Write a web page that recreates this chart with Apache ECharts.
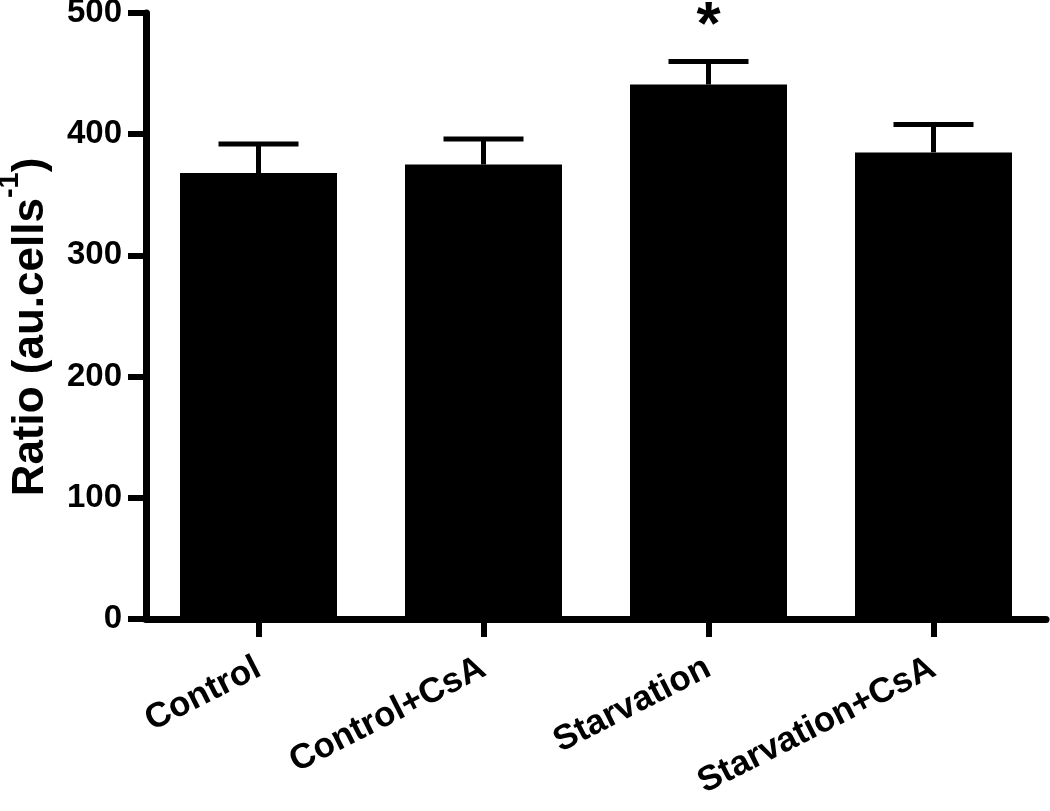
<!DOCTYPE html>
<html>
<head>
<meta charset="utf-8">
<script src="https://cdn.jsdelivr.net/npm/echarts@6/dist/echarts.min.js"></script>
<style>
html,body{margin:0;padding:0;background:#fff;}
#chart{width:1050px;height:811px;}
</style>
</head>
<body>
<div id="chart"></div>
<script>
const categories = ['Control', 'Control+CsA', 'Starvation', 'Starvation+CsA'];
const means = [368, 375, 441, 385];
const errUpper = [392, 396, 460, 408];
const sigMarks = ['', '', '*', ''];
const yMin = 0, yMax = 500, yStep = 100;

const FONT = '"Liberation Sans", Arial, Helvetica, sans-serif';
const chart = echarts.init(document.getElementById('chart'), null, {renderer: 'canvas'});

const errData = categories.map((c, i) => [i, means[i], errUpper[i]]);

chart.setOption({
  animation: false,
  backgroundColor: '#fff',
  grid: {left: 146, right: 4, top: 13, bottom: 192, containLabel: false, outerBoundsMode: 'none'},
  xAxis: {
    type: 'category',
    data: categories,
    axisLine: {show: true, lineStyle: {color: '#000', width: 7}},
    axisTick: {show: true, alignWithLabel: true, length: 18, lineStyle: {color: '#000', width: 6}},
    axisLabel: {
      rotate: 27, margin: 47, color: '#000',
      fontFamily: FONT, fontWeight: 'bold', fontSize: 35
    },
    splitLine: {show: false}
  },
  yAxis: {
    type: 'value',
    min: yMin, max: yMax, interval: yStep,
    name: '{m|Ratio (au.cells}{s|-1}{m|)}',
    nameLocation: 'middle',
    nameGap: 93,
    nameRotate: 90,
    nameTextStyle: {
      color: '#000',
      padding: [0, 22, 0, 0],
      rich: {
        m: {fontFamily: FONT, fontWeight: 'bold', fontSize: 44, lineHeight: 58, color: '#000', verticalAlign: 'bottom'},
        s: {fontFamily: FONT, fontWeight: 'bold', fontSize: 29, lineHeight: 58, color: '#000', verticalAlign: 'top'}
      }
    },
    axisLine: {show: true, lineStyle: {color: '#000', width: 7}},
    axisTick: {show: true, length: 18, lineStyle: {color: '#000', width: 6}},
    axisLabel: {
      margin: 24, color: '#000',
      fontFamily: FONT, fontWeight: 'bold', fontSize: 33
    },
    splitLine: {show: false}
  },
  series: [
    {
      type: 'bar',
      data: means,
      barWidth: 157,
      itemStyle: {color: '#000'},
      z: 2
    },
    {
      type: 'custom',
      data: errData,
      z: 3,
      renderItem: function (params, api) {
        const i = api.value(0);
        const top = api.coord([i, api.value(1)]);
        const hi = api.coord([i, api.value(2)]);
        const half = 40;
        const children = [
          {type: 'line', shape: {x1: top[0], y1: top[1], x2: hi[0], y2: hi[1]}, style: {stroke: '#000', lineWidth: 5}},
          {type: 'line', shape: {x1: hi[0] - half, y1: hi[1], x2: hi[0] + half, y2: hi[1]}, style: {stroke: '#000', lineWidth: 5}}
        ];
        const mark = sigMarks[params.dataIndex];
        if (mark) {
          children.push({
            type: 'text',
            style: {
              text: mark, x: hi[0], y: hi[1] - 4,
              align: 'center', verticalAlign: 'bottom',
              fill: '#000', font: 'bold 62px ' + FONT
            }
          });
        }
        return {type: 'group', children: children};
      }
    }
  ]
});
</script>
</body>
</html>
